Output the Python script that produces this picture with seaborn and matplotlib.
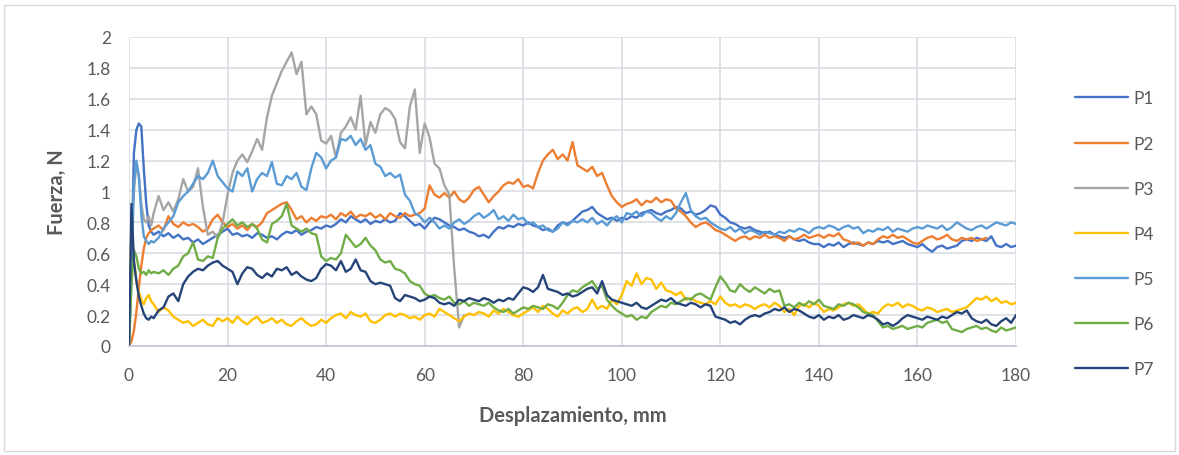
import numpy as np
import pandas as pd
import matplotlib
matplotlib.use("Agg")
import matplotlib.pyplot as plt
from matplotlib.patches import Rectangle
from matplotlib.ticker import FuncFormatter, MultipleLocator
import seaborn as sns

# Displacement grid (mm): half-millimetre steps through the initial peak, then 1 mm
desplazamiento = np.r_[np.arange(0, 5, 0.5), np.arange(5, 181, 1)]

series_names = ["P1", "P2", "P3", "P4", "P5", "P6", "P7"]

p1 = [0, 0.55, 1.25, 1.40, 1.44, 1.42, 1.15, 0.92, 0.78, 0.74,
      0.72, 0.74, 0.71, 0.73, 0.70, 0.72,
      0.69, 0.70, 0.67, 0.69, 0.66, 0.68, 0.70, 0.72, 0.74, 0.76,
      0.72, 0.73, 0.71, 0.72, 0.70, 0.73, 0.72, 0.70, 0.71, 0.69,
      0.72, 0.74, 0.73, 0.75, 0.72, 0.74, 0.75, 0.77, 0.76, 0.78,
      0.77, 0.79, 0.82, 0.80, 0.84, 0.82, 0.80, 0.82, 0.79, 0.81,
      0.80, 0.82, 0.80, 0.81, 0.86, 0.84, 0.81, 0.78, 0.79, 0.76,
      0.80, 0.83, 0.82, 0.80, 0.78, 0.77, 0.75, 0.76, 0.74, 0.73,
      0.71, 0.72, 0.70, 0.74, 0.77, 0.76, 0.78, 0.77, 0.79, 0.78,
      0.80, 0.78, 0.77, 0.75, 0.76, 0.74, 0.78, 0.80, 0.79, 0.81,
      0.84, 0.87, 0.88, 0.90, 0.86, 0.84, 0.82, 0.83, 0.81, 0.83,
      0.82, 0.84, 0.83, 0.86, 0.87, 0.88, 0.86, 0.85, 0.87, 0.88,
      0.90, 0.89, 0.86, 0.87, 0.85, 0.86, 0.88, 0.91, 0.90, 0.85,
      0.83, 0.80, 0.79, 0.77, 0.76, 0.77, 0.75, 0.74, 0.73, 0.74,
      0.72, 0.71, 0.70, 0.71, 0.69, 0.68, 0.69, 0.67, 0.66, 0.66,
      0.64, 0.66, 0.65, 0.67, 0.64, 0.66, 0.67, 0.66, 0.65, 0.67,
      0.66, 0.68, 0.67, 0.68, 0.66, 0.67, 0.68, 0.66, 0.65, 0.64,
      0.66, 0.63, 0.61, 0.64, 0.65, 0.63, 0.64, 0.65, 0.68, 0.69,
      0.68, 0.70, 0.69, 0.68, 0.71, 0.65, 0.64, 0.66, 0.64, 0.65]

p2 = [0, 0.03, 0.10, 0.22, 0.38, 0.52, 0.63, 0.70, 0.73, 0.75,
      0.76, 0.78, 0.75, 0.84, 0.79, 0.77,
      0.80, 0.78, 0.79, 0.77, 0.74, 0.76, 0.82, 0.85, 0.80, 0.77,
      0.79, 0.76, 0.78, 0.75, 0.79, 0.77, 0.80, 0.86, 0.88, 0.90,
      0.92, 0.93, 0.88, 0.82, 0.84, 0.80, 0.83, 0.81, 0.84, 0.83,
      0.85, 0.82, 0.86, 0.84, 0.87, 0.83, 0.85, 0.84, 0.86, 0.83,
      0.85, 0.82, 0.86, 0.84, 0.83, 0.86, 0.84, 0.85, 0.86, 0.89,
      1.04, 0.98, 0.96, 0.99, 0.96, 1.00, 0.95, 0.93, 0.96, 1.01,
      1.03, 0.98, 0.93, 0.97, 1.00, 1.04, 1.06, 1.05, 1.08, 1.03,
      1.04, 1.02, 1.12, 1.20, 1.24, 1.27, 1.21, 1.24, 1.20, 1.32,
      1.17, 1.15, 1.13, 1.16, 1.10, 1.12, 1.04, 0.97, 0.93, 0.90,
      0.92, 0.93, 0.95, 0.91, 0.94, 0.93, 0.96, 0.93, 0.95, 0.94,
      0.89, 0.87, 0.84, 0.80, 0.77, 0.79, 0.80, 0.78, 0.75, 0.74,
      0.72, 0.70, 0.68, 0.70, 0.71, 0.69, 0.71, 0.70, 0.72, 0.70,
      0.71, 0.70, 0.68, 0.71, 0.69, 0.70, 0.72, 0.70, 0.71, 0.72,
      0.70, 0.72, 0.71, 0.73, 0.69, 0.68, 0.66, 0.67, 0.65, 0.67,
      0.66, 0.69, 0.71, 0.70, 0.72, 0.70, 0.71, 0.69, 0.67, 0.66,
      0.68, 0.70, 0.71, 0.69, 0.70, 0.72, 0.69, 0.68, 0.70, 0.69,
      0.70, 0.68, 0.69, 0.70]

p3 = [0, 0.75, 1.00, 1.18, 1.10, 0.92, 0.82, 0.80, 0.84, 0.78,
      0.86, 0.97, 0.88, 0.93, 0.87, 0.95,
      1.08, 1.00, 1.03, 1.15, 0.90, 0.72, 0.74, 0.70, 0.80, 0.98,
      1.12, 1.20, 1.24, 1.19, 1.26, 1.34, 1.27, 1.48, 1.62, 1.70,
      1.78, 1.84, 1.90, 1.76, 1.84, 1.50, 1.55, 1.50, 1.33, 1.31,
      1.36, 1.22, 1.38, 1.42, 1.48, 1.40, 1.62, 1.30, 1.45, 1.38,
      1.50, 1.54, 1.52, 1.47, 1.32, 1.28, 1.55, 1.66, 1.25, 1.44,
      1.35, 1.18, 1.15, 1.04, 0.98, 0.50, 0.12, 0.20]

p4 = [0, 0.80, 0.55, 0.42, 0.35, 0.30, 0.27, 0.31, 0.33, 0.29,
      0.27, 0.22, 0.25, 0.23, 0.19, 0.17,
      0.15, 0.16, 0.13, 0.15, 0.17, 0.14, 0.13, 0.18, 0.16, 0.18,
      0.15, 0.19, 0.16, 0.14, 0.17, 0.19, 0.15, 0.16, 0.18, 0.15,
      0.17, 0.14, 0.13, 0.16, 0.18, 0.15, 0.13, 0.14, 0.17, 0.15,
      0.18, 0.20, 0.21, 0.18, 0.22, 0.20, 0.19, 0.21, 0.16, 0.15,
      0.17, 0.20, 0.21, 0.19, 0.21, 0.20, 0.18, 0.19, 0.17, 0.20,
      0.21, 0.19, 0.24, 0.22, 0.20, 0.18, 0.16, 0.19, 0.21, 0.20,
      0.22, 0.21, 0.19, 0.23, 0.21, 0.24, 0.22, 0.20, 0.19, 0.21,
      0.23, 0.25, 0.22, 0.26, 0.24, 0.21, 0.19, 0.23, 0.21, 0.24,
      0.25, 0.22, 0.24, 0.30, 0.24, 0.26, 0.24, 0.30, 0.27, 0.33,
      0.42, 0.39, 0.47, 0.40, 0.44, 0.43, 0.37, 0.41, 0.36, 0.35,
      0.33, 0.35, 0.30, 0.31, 0.29, 0.28, 0.27, 0.29, 0.27, 0.32,
      0.28, 0.26, 0.27, 0.25, 0.27, 0.26, 0.24, 0.26, 0.27, 0.25,
      0.28, 0.26, 0.22, 0.24, 0.20, 0.26, 0.27, 0.25, 0.28, 0.26,
      0.22, 0.24, 0.23, 0.25, 0.27, 0.28, 0.26, 0.27, 0.24, 0.21,
      0.22, 0.21, 0.25, 0.27, 0.26, 0.28, 0.25, 0.27, 0.26, 0.24,
      0.23, 0.25, 0.24, 0.22, 0.23, 0.24, 0.22, 0.23, 0.24, 0.25,
      0.28, 0.31, 0.30, 0.32, 0.29, 0.31, 0.28, 0.29, 0.27, 0.28]

p5 = [0, 0.45, 1.05, 1.20, 1.10, 0.85, 0.71, 0.68, 0.66, 0.68,
      0.67, 0.70, 0.76, 0.80, 0.84, 0.93,
      0.97, 1.00, 1.05, 1.10, 1.08, 1.12, 1.20, 1.10, 1.06, 1.02,
      1.00, 1.13, 1.10, 1.15, 1.00, 1.08, 1.12, 1.10, 1.19, 1.05,
      1.04, 1.10, 1.08, 1.12, 1.03, 1.01, 1.15, 1.25, 1.22, 1.15,
      1.20, 1.22, 1.34, 1.33, 1.36, 1.30, 1.34, 1.27, 1.30, 1.18,
      1.16, 1.10, 1.12, 1.09, 1.11, 0.98, 0.94, 0.86, 0.84, 0.80,
      0.83, 0.80, 0.76, 0.78, 0.76, 0.80, 0.82, 0.79, 0.81, 0.84,
      0.86, 0.83, 0.85, 0.88, 0.82, 0.84, 0.81, 0.85, 0.82, 0.83,
      0.79, 0.80, 0.77, 0.78, 0.75, 0.74, 0.76, 0.80, 0.78, 0.81,
      0.80, 0.82, 0.80, 0.83, 0.79, 0.81, 0.78, 0.82, 0.84, 0.80,
      0.86, 0.85, 0.87, 0.84, 0.87, 0.86, 0.83, 0.81, 0.84, 0.82,
      0.86, 0.93, 0.99, 0.88, 0.84, 0.82, 0.83, 0.80, 0.78, 0.76,
      0.75, 0.77, 0.74, 0.76, 0.73, 0.75, 0.74, 0.72, 0.74, 0.73,
      0.72, 0.74, 0.73, 0.75, 0.74, 0.76, 0.75, 0.73, 0.76, 0.77,
      0.76, 0.78, 0.77, 0.75, 0.77, 0.78, 0.76, 0.77, 0.73, 0.75,
      0.74, 0.76, 0.75, 0.77, 0.74, 0.76, 0.75, 0.74, 0.76, 0.77,
      0.76, 0.78, 0.77, 0.76, 0.78, 0.75, 0.77, 0.80, 0.78, 0.76,
      0.75, 0.77, 0.78, 0.76, 0.78, 0.80, 0.79, 0.78, 0.80, 0.79]

p6 = [0, 0.40, 0.62, 0.58, 0.50, 0.47, 0.48, 0.46, 0.49, 0.47,
      0.48, 0.47, 0.49, 0.46, 0.50, 0.52,
      0.58, 0.60, 0.67, 0.56, 0.55, 0.58, 0.57, 0.70, 0.76, 0.79,
      0.82, 0.78, 0.80, 0.77, 0.79, 0.76, 0.69, 0.67, 0.79, 0.81,
      0.84, 0.92, 0.78, 0.76, 0.74, 0.76, 0.73, 0.72, 0.58, 0.55,
      0.57, 0.56, 0.60, 0.72, 0.68, 0.64, 0.66, 0.70, 0.65, 0.62,
      0.56, 0.54, 0.55, 0.50, 0.49, 0.47, 0.42, 0.40, 0.39, 0.34,
      0.32, 0.33, 0.31, 0.30, 0.32, 0.28, 0.27, 0.29, 0.26, 0.28,
      0.27, 0.26, 0.28, 0.25, 0.23, 0.22, 0.24, 0.21, 0.23, 0.25,
      0.24, 0.26, 0.25, 0.24, 0.27, 0.26, 0.24, 0.28, 0.33, 0.36,
      0.35, 0.38, 0.40, 0.42, 0.37, 0.39, 0.30, 0.26, 0.23, 0.21,
      0.19, 0.20, 0.17, 0.19, 0.18, 0.22, 0.24, 0.26, 0.25, 0.28,
      0.27, 0.29, 0.31, 0.30, 0.33, 0.34, 0.32, 0.30, 0.38, 0.45,
      0.41, 0.36, 0.35, 0.40, 0.37, 0.35, 0.38, 0.36, 0.34, 0.37,
      0.35, 0.36, 0.26, 0.27, 0.25, 0.28, 0.26, 0.29, 0.27, 0.30,
      0.26, 0.25, 0.24, 0.27, 0.26, 0.28, 0.27, 0.25, 0.22, 0.21,
      0.20, 0.16, 0.12, 0.13, 0.11, 0.12, 0.13, 0.11, 0.12, 0.13,
      0.12, 0.15, 0.16, 0.17, 0.15, 0.16, 0.11, 0.10, 0.09, 0.11,
      0.12, 0.13, 0.11, 0.12, 0.10, 0.09, 0.12, 0.10, 0.11, 0.12]

p7 = [0, 0.92, 0.55, 0.42, 0.32, 0.26, 0.21, 0.18, 0.17, 0.19,
      0.18, 0.23, 0.25, 0.32, 0.34, 0.29,
      0.40, 0.45, 0.48, 0.50, 0.49, 0.52, 0.54, 0.55, 0.52, 0.50,
      0.48, 0.40, 0.47, 0.51, 0.50, 0.46, 0.44, 0.47, 0.45, 0.50,
      0.49, 0.51, 0.46, 0.48, 0.45, 0.43, 0.42, 0.44, 0.50, 0.53,
      0.52, 0.49, 0.55, 0.48, 0.50, 0.56, 0.49, 0.48, 0.42, 0.40,
      0.41, 0.40, 0.39, 0.31, 0.29, 0.33, 0.32, 0.31, 0.29, 0.30,
      0.32, 0.31, 0.28, 0.27, 0.28, 0.26, 0.30, 0.29, 0.31, 0.30,
      0.29, 0.31, 0.30, 0.28, 0.30, 0.29, 0.31, 0.30, 0.34, 0.38,
      0.37, 0.35, 0.38, 0.46, 0.37, 0.36, 0.35, 0.33, 0.34, 0.32,
      0.33, 0.35, 0.37, 0.38, 0.34, 0.42, 0.33, 0.30, 0.29, 0.28,
      0.27, 0.26, 0.28, 0.25, 0.24, 0.26, 0.28, 0.30, 0.29, 0.31,
      0.28, 0.27, 0.26, 0.28, 0.27, 0.25, 0.27, 0.26, 0.19, 0.18,
      0.17, 0.15, 0.16, 0.14, 0.17, 0.19, 0.20, 0.19, 0.21, 0.22,
      0.24, 0.23, 0.25, 0.22, 0.24, 0.23, 0.21, 0.19, 0.18, 0.20,
      0.17, 0.19, 0.18, 0.20, 0.17, 0.18, 0.20, 0.19, 0.18, 0.20,
      0.19, 0.17, 0.14, 0.15, 0.13, 0.15, 0.18, 0.20, 0.19, 0.18,
      0.17, 0.19, 0.18, 0.17, 0.19, 0.18, 0.20, 0.22, 0.21, 0.23,
      0.18, 0.16, 0.15, 0.17, 0.14, 0.13, 0.16, 0.18, 0.15, 0.20]

series_values = [p1, p2, p3, p4, p5, p6, p7]
colors = ["#4472C4", "#ED7D31", "#A5A5A5", "#FFC000",
          "#5B9BD5", "#70AD47", "#264478"]

x_ticks = [0, 20, 40, 60, 80, 100, 120, 140, 160, 180]

# Long-form table: one row per (series, displacement) sample
frames = []
for name, vals in zip(series_names, series_values):
    frames.append(pd.DataFrame({
        "Desplazamiento": desplazamiento[:len(vals)],
        "Fuerza": vals,
        "Serie": name,
    }))
data = pd.concat(frames, ignore_index=True)

sns.set_theme(style="white")
plt.rcParams["font.family"] = ["Lato", "DejaVu Sans"]

text_color = "#595959"
grid_color = "#D9DDE3"
line_width = 1.7

fig = plt.figure(figsize=(11.79, 4.56), dpi=100)
ax = fig.add_axes([129 / 1179, 1 - 347 / 456, (1016 - 129) / 1179, (347 - 38) / 456])

sns.lineplot(data=data, x="Desplazamiento", y="Fuerza", hue="Serie",
             hue_order=series_names, palette=colors, linewidth=line_width,
             estimator=None, sort=False, ax=ax, legend=True)

ax.set_xlim(0, 180)
ax.set_ylim(0, 2)
ax.set_xticks(x_ticks)
ax.yaxis.set_major_locator(MultipleLocator(0.2))
ax.yaxis.set_major_formatter(FuncFormatter(lambda v, _: f"{v:.1f}".rstrip("0").rstrip(".")))

ax.grid(True, color=grid_color, linewidth=1.2)
ax.set_axisbelow(True)
for side in ["top", "right", "left"]:
    ax.spines[side].set_visible(False)
ax.spines["bottom"].set_color("#BFC5D0")
ax.spines["bottom"].set_linewidth(1.2)
ax.tick_params(axis="both", length=0, colors=text_color, labelsize=12.5)
ax.tick_params(axis="x", pad=15)
ax.tick_params(axis="y", pad=13)

ax.set_xlabel("Desplazamiento, mm", fontsize=14.5, fontweight="bold",
              color=text_color, labelpad=16)
ax.set_ylabel("Fuerza, N", fontsize=14.5, fontweight="bold",
              color=text_color, labelpad=14)

handles, labels = ax.get_legend_handles_labels()
leg = ax.legend(handles, labels, loc="center left",
                bbox_to_anchor=(1068 / 1179, 1 - 235 / 456),
                bbox_transform=fig.transFigure, frameon=False,
                borderaxespad=0, fontsize=12.5, handlelength=3.05,
                handletextpad=0.3, labelspacing=1.68, labelcolor=text_color)
for line in leg.get_lines():
    line.set_linewidth(line_width)

# Thin frame around the whole chart area
fig.patches.append(Rectangle((4 / 1179, 4 / 456), 1 - 8 / 1179, 1 - 10 / 456,
                             transform=fig.transFigure, fill=False,
                             edgecolor="#D9D9D9", linewidth=1.0))

fig.savefig("out.png", dpi=100)
